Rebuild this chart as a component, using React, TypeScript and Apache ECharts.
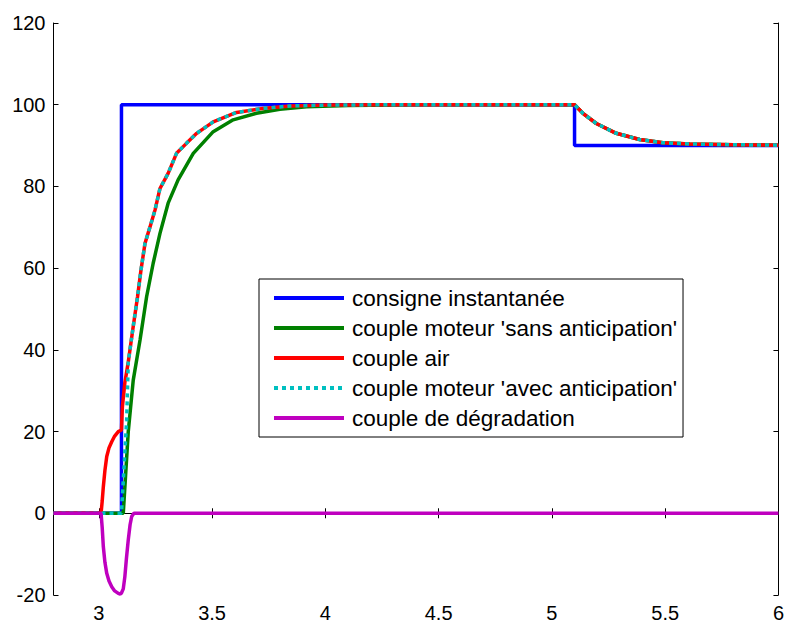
import React, { useEffect, useRef } from "react";
import * as echarts from "echarts";

// ---- data ----
const xTicks = [3, 3.5, 4, 4.5, 5, 5.5, 6];

const seriesNames = [
  "consigne instantanée",
  "couple moteur 'sans anticipation'",
  "couple air",
  "couple moteur 'avec anticipation'",
  "couple de dégradation",
];

const consigneT = [2.8, 3.1, 3.1, 5.1, 5.1, 6];
const consigneV = [0, 0, 100, 100, 90, 90];

const sansT = [2.8, 3.108, 3.13, 3.152, 3.182, 3.211, 3.24, 3.27, 3.306, 3.35, 3.417, 3.505, 3.593, 3.696, 3.799, 3.917, 4.1, 4.4, 5.1, 5.137, 5.196, 5.284, 5.387, 5.49, 5.608, 5.8, 6];
const sansV = [0, 0, 20, 32.6, 42.4, 53, 61.2, 68.5, 75.9, 81.6, 88.1, 93.4, 96.3, 97.9, 98.9, 99.5, 99.8, 100, 100, 97.9, 95.4, 93, 91.5, 90.7, 90.4, 90.2, 90.1];

const airT = [2.8, 3.01, 3.015, 3.02, 3.027, 3.035, 3.045, 3.057, 3.07, 3.086, 3.1, 3.104, 3.115, 3.13, 3.15, 3.171, 3.186, 3.204, 3.226, 3.248, 3.27, 3.306, 3.343, 3.388, 3.432, 3.505, 3.608, 3.725, 3.843, 4.0, 4.3, 5.1, 5.137, 5.196, 5.284, 5.387, 5.49, 5.608, 5.8, 6];
const airV = [0, 0, 3, 6.5, 10.5, 13.9, 16, 17.5, 18.9, 20, 20.4, 26, 32, 37, 45, 53, 59.5, 66.1, 70.1, 74.2, 79.5, 83.2, 88.1, 90.6, 93, 95.8, 98.1, 99.1, 99.7, 99.9, 100, 100, 97.9, 95.4, 93, 91.5, 90.7, 90.4, 90.2, 90.1];

const avecT = [2.8, 3.1, 3.112, 3.123, 3.13, 3.15, 3.171, 3.186, 3.204, 3.226, 3.248, 3.27, 3.306, 3.343, 3.388, 3.432, 3.505, 3.608, 3.725, 3.843, 4.0, 4.3, 5.1, 5.137, 5.196, 5.284, 5.387, 5.49, 5.608, 5.8, 6];
const avecV = [0, 0, 12, 22.8, 37, 45, 53, 59.5, 66.1, 70.1, 74.2, 79.5, 83.2, 88.1, 90.6, 93, 95.8, 98.1, 99.1, 99.7, 99.9, 100, 100, 97.9, 95.4, 93, 91.5, 90.7, 90.4, 90.2, 90.1];

const degradT = [2.8, 3.01, 3.015, 3.02, 3.027, 3.035, 3.045, 3.057, 3.07, 3.086, 3.095, 3.1, 3.108, 3.115, 3.122, 3.13, 3.138, 3.145, 3.155, 6];
const degradV = [0, 0, -3.5, -8.2, -12, -14.7, -16.6, -18, -19, -19.6, -19.8, -19.5, -18.5, -15.5, -11, -6.5, -2.8, -0.8, 0, 0];

const colors = ["#0000ff", "#008000", "#ff0000", "#00bfbf", "#bf00bf"];

const zip = (t: number[], v: number[]) => t.map((x, i) => [x, v[i]]);

const FONT = "'Liberation Sans', Arial, sans-serif";

export default function App() {
  const ref = useRef<HTMLDivElement>(null);
  useEffect(() => {
    if (!ref.current) return;
    const chart = echarts.init(ref.current, null, { renderer: "svg" });
    const datasets = [
      zip(consigneT, consigneV),
      zip(sansT, sansV),
      zip(airT, airV),
      zip(avecT, avecV),
      zip(degradT, degradV),
    ];
    const axisLine = { show: true, lineStyle: { color: "#000", width: 1 } };
    const tick = { show: true, inside: true, length: 5, lineStyle: { color: "#000", width: 1 } };
    chart.setOption({
      animation: false,
      backgroundColor: "#fff",
      grid: { left: 53.5, top: 23, right: 8.5, bottom: 29, containLabel: false },
      xAxis: [
        {
          type: "value",
          min: 2.8,
          max: 6,
          position: "bottom",
          axisLine,
          axisTick: { ...tick, customValues: xTicks },
          axisLabel: { customValues: xTicks, color: "#000", fontSize: 20, fontFamily: FONT, margin: 8 },
          splitLine: { show: false },
        },
        {
          type: "value",
          min: 2.8,
          max: 6,
          position: "top",
          axisLine,
          axisTick: { ...tick, customValues: xTicks },
          axisLabel: { show: false },
          splitLine: { show: false },
        },
      ],
      yAxis: [
        {
          type: "value",
          min: -20,
          max: 120,
          interval: 20,
          position: "left",
          axisLine,
          axisTick: tick,
          axisLabel: { color: "#000", fontSize: 20, fontFamily: FONT, margin: 8 },
          splitLine: { show: false },
        },
        {
          type: "value",
          min: -20,
          max: 120,
          interval: 20,
          position: "right",
          axisLine,
          axisTick: tick,
          axisLabel: { show: false },
          splitLine: { show: false },
        },
      ],
      legend: {
        orient: "vertical",
        left: 259,
        top: 279,
        padding: [7, 6, 7, 13],
        itemWidth: 70,
        itemHeight: 14,
        itemGap: 6,
        borderColor: "#000",
        borderWidth: 1,
        backgroundColor: "#fff",
        selectedMode: false,
        itemStyle: { opacity: 0, borderWidth: 0 },
        lineStyle: { width: 4 },
        textStyle: { color: "#000", fontSize: 22.5, fontFamily: FONT, lineHeight: 24, padding: [0, 0, 0, 3] },
        data: seriesNames,
      },
      series: seriesNames.map((name, i) => ({
        name,
        type: "line",
        data: datasets[i],
        showSymbol: false,
        symbol: "none",
        color: colors[i],
        lineStyle: {
          color: colors[i],
          width: 3.5,
          type: i === 3 ? [4, 4] : "solid",
        },
        z: 2 + i,
      })),
    });
    return () => chart.dispose();
  }, []);
  return (
    <div
      ref={ref}
      style={{ position: "fixed", left: 0, top: 0, width: 787, height: 624 }}
    />
  );
}
